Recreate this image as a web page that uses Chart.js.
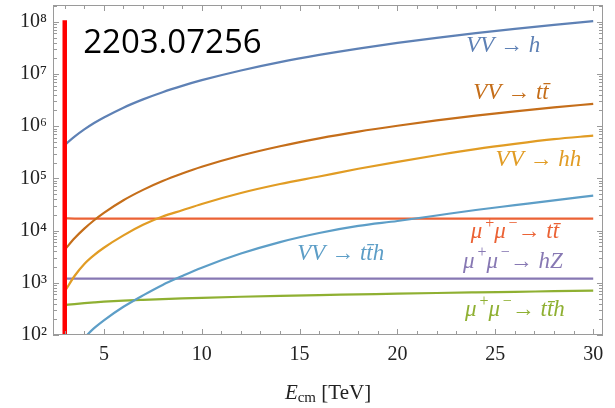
<!DOCTYPE html>
<html>
<head>
<meta charset="utf-8">
<script src="https://cdn.jsdelivr.net/npm/chart.js@4"></script>
<style>
  html, body { margin: 0; padding: 0; background: #fff; }
  #wrap { width: 615px; height: 408px; }
</style>
</head>
<body>
<div id="wrap"><canvas id="myChart" width="615" height="408"></canvas></div>
<script>
// collider energy in TeV
const energies = [3, 3.5, 4, 4.5, 5, 6, 7, 8, 9, 10, 12, 14, 16, 18, 20, 22, 24, 26, 28, 30];

// vector boson fusion
const vvToH   = [4.38e5, 6.31e5, 8.67e5, 1.15e6, 1.47e6, 2.27e6, 3.27e6, 4.49e6, 5.93e6, 7.62e6,
                 1.17e7, 1.69e7, 2.32e7, 3.07e7, 3.94e7, 4.94e7, 6.07e7, 7.34e7, 8.75e7, 1.03e8];
const vvToTT  = [4.3e3, 7.12e3, 1.09e4, 1.58e4, 2.19e4, 3.82e4, 6.03e4, 8.89e4, 1.24e5, 1.67e5,
                 2.74e5, 4.13e5, 5.85e5, 7.88e5, 1.02e6, 1.29e6, 1.6e6, 1.93e6, 2.29e6, 2.69e6];
const vvToHH  = [680, 1.35e3, 2.3e3, 3.4e3, 4.7e3, 8.1e3, 1.29e4, 1.86e4, 2.45e4, 3.24e4,
                 5.25e4, 7.8e4, 1.09e5, 1.53e5, 2.08e5, 2.78e5, 3.65e5, 4.6e5, 5.65e5, 6.6e5];
const vvToTTH = [null, null, 89, 135, 191, 347, 575, 912, 1.35e3, 1.95e3,
                 3.63e3, 6.03e3, 9.0e3, 1.23e4, 1.53e4, 1.95e4, 2.48e4, 3.07e4, 3.8e4, 4.68e4];

// muon annihilation
const mmToTT  = [1.72e4, 1.7e4, 1.7e4, 1.7e4, 1.7e4, 1.7e4, 1.7e4, 1.7e4, 1.7e4, 1.7e4,
                 1.7e4, 1.7e4, 1.7e4, 1.7e4, 1.7e4, 1.7e4, 1.7e4, 1.7e4, 1.7e4, 1.7e4];
const mmToHZ  = [1.21e3, 1.2e3, 1.2e3, 1.2e3, 1.2e3, 1.2e3, 1.2e3, 1.2e3, 1.2e3, 1.2e3,
                 1.2e3, 1.2e3, 1.2e3, 1.2e3, 1.2e3, 1.2e3, 1.2e3, 1.2e3, 1.2e3, 1.2e3];
const mmToTTH = [375, 392, 408, 422, 435, 455, 472, 488, 503, 516,
                 540, 562, 582, 600, 620, 638, 655, 672, 690, 708];

// red marker at 3 TeV
const markerE = [3, 3];
const markerY = [100, 1.07e8];

// ticks
const xTicks = [5, 10, 15, 20, 25, 30];
const yTickExp = [2, 3, 4, 5, 6, 7, 8];

// curve labels, '^' marks a superscript character
const labelText = ['VV \u2192 h', 'VV \u2192 tt\u0304', 'VV \u2192 hh', 'VV \u2192 tt\u0304h',
                   '\u03bc^+\u03bc^\u2212\u2192 tt\u0304', '\u03bc^+\u03bc^\u2212\u2192 hZ', '\u03bc^+\u03bc^\u2212\u2192 tt\u0304h'];
const labelE    = [25.4, 25.8, 27.2, 17.1, 26.0, 25.9, 26.0];
const labelY    = [3.4e7, 4.4e6, 2.3e5, 3.6e3, 9.3e3, 2.5e3, 300];
const labelColor = ['#5E81B5', '#C56E1A', '#E19C24', '#5D9EC7', '#EB6235', '#8778B3', '#8FB032'];

const arxivId = '2203.07256';
const arxivE = 3.94;
const arxivY = 3.9e7;

const sup = {2: '\u00b2', 3: '\u00b3', 4: '\u2074', 5: '\u2075', 6: '\u2076', 7: '\u2077', 8: '\u2078'};

function pts(ys)
{
    return energies.map((e, i) => ({x: e, y: ys[i]}));
}

function curve(ys, color)
{
    return {
        data: pts(ys),
        borderColor: color,
        borderWidth: 2.2,
        pointRadius: 0,
        cubicInterpolationMode: 'monotone',
        spanGaps: false
    };
}

// draw text with '^x' superscripts, centred on (x, y)
function drawRich(ctx, str, x, y, size)
{
    const parts = [];
    for (let i = 0; i < str.length; i++)
    {
        if (str[i] === '^') { parts.push({t: str[i + 1], up: true}); i++; }
        else if (parts.length && !parts[parts.length - 1].up) parts[parts.length - 1].t += str[i];
        else parts.push({t: str[i], up: false});
    }
    const big = 'italic ' + size + 'px "Liberation Serif"';
    const small = Math.round(size * 0.68) + 'px "Liberation Serif"';
    const kern = size * 0.12;  // italic correction before a superscript
    let w = 0;
    parts.forEach(p =>
    {
        ctx.font = p.up ? small : big;
        p.w = ctx.measureText(p.t).width + (p.up ? kern : 0);
        w += p.w;
    });
    let sx = x - w / 2;
    ctx.textAlign = 'left';
    ctx.textBaseline = 'middle';
    parts.forEach(p =>
    {
        ctx.font = p.up ? small : big;
        ctx.fillText(p.t, p.up ? sx + kern : sx, p.up ? y - size * 0.38 : y);
        sx += p.w;
    });
}

const framePlugin = {
    id: 'frame',
    afterDatasetsDraw(chart)
    {
        const {ctx, chartArea: a, scales: {x, y}} = chart;
        ctx.save();
        ctx.strokeStyle = '#9a9a9a';
        ctx.lineWidth = 1;
        ctx.strokeRect(a.left + 0.5, a.top + 0.5, a.right - a.left - 1, a.bottom - a.top - 1);
        ctx.beginPath();
        for (let e = 3; e <= 30; e++)
        {
            const px = Math.round(x.getPixelForValue(e)) + 0.5;
            const len = e % 5 === 0 ? 6 : 4;
            ctx.moveTo(px, a.bottom); ctx.lineTo(px, a.bottom - len);
            ctx.moveTo(px, a.top); ctx.lineTo(px, a.top + len);
        }
        for (let n = 2; n <= 8; n++)
        {
            for (let k = 1; k <= 9; k++)
            {
                const v = k * Math.pow(10, n);
                if (v > y.max) break;
                const py = Math.round(y.getPixelForValue(v)) + 0.5;
                const len = k === 1 ? 6 : 4;
                ctx.moveTo(a.left, py); ctx.lineTo(a.left + len, py);
                ctx.moveTo(a.right, py); ctx.lineTo(a.right - len, py);
            }
        }
        ctx.stroke();

        // curve labels
        labelText.forEach((t, i) =>
        {
            ctx.fillStyle = labelColor[i];
            drawRich(ctx, t, x.getPixelForValue(labelE[i]), y.getPixelForValue(labelY[i]), 23);
        });

        // paper id
        ctx.textAlign = 'left';
        ctx.textBaseline = 'middle';
        ctx.fillStyle = '#000';
        ctx.font = '33px "Open Sans"';
        ctx.fillText(arxivId, x.getPixelForValue(arxivE), y.getPixelForValue(arxivY));

        // x axis title
        const cx = (a.left + a.right) / 2;
        const ty = chart.height - 15;
        const fE = 'italic 21px "Liberation Serif"', fSub = '15px "Liberation Serif"', fU = '21px "Liberation Serif"';
        ctx.font = fE; const wE = ctx.measureText('E').width;
        ctx.font = fSub; const wS = ctx.measureText('cm').width;
        ctx.font = fU; const wU = ctx.measureText(' [TeV]').width;
        let sx = cx - (wE + wS + wU) / 2;
        ctx.fillStyle = '#222';
        ctx.font = fE; ctx.fillText('E', sx, ty); sx += wE;
        ctx.font = fSub; ctx.fillText('cm', sx, ty + 5); sx += wS;
        ctx.font = fU; ctx.fillText(' [TeV]', sx, ty);
        ctx.restore();
    }
};

window.addEventListener('load', () =>
{
    const ctx = document.getElementById('myChart').getContext('2d');
    new Chart(ctx, {
        type: 'line',
        data: {
            datasets: [
                {
                    data: markerE.map((e, i) => ({x: e, y: markerY[i]})),
                    borderColor: '#ff0000',
                    borderWidth: 4.5,
                    pointRadius: 0
                },
                curve(vvToH, '#5E81B5'),
                curve(vvToTT, '#C56E1A'),
                curve(vvToHH, '#E19C24'),
                curve(vvToTTH, '#5D9EC7'),
                curve(mmToTT, '#EB6235'),
                curve(mmToHZ, '#8778B3'),
                curve(mmToTTH, '#8FB032')
            ]
        },
        options: {
            responsive: false,
            animation: false,
            events: [],
            layout: {padding: {left: 0, right: 12, top: 5, bottom: 0}},
            plugins: {legend: {display: false}, tooltip: {enabled: false}},
            scales: {
                x: {
                    type: 'linear',
                    min: 2.4,
                    max: 30.5,
                    grid: {display: false, drawTicks: false},
                    border: {display: false},
                    afterBuildTicks: s => { s.ticks = xTicks.map(v => ({value: v})); },
                    afterFit: s => { s.height = 73; s.paddingLeft = 0; s.paddingRight = 0; },
                    ticks: {
                        padding: 8,
                        color: '#222',
                        maxRotation: 0,
                        autoSkip: false,
                        font: {family: '"Liberation Serif"', size: 20}
                    }
                },
                y: {
                    type: 'logarithmic',
                    min: 100,
                    max: 2.1e8,
                    grid: {display: false, drawTicks: false},
                    border: {display: false},
                    afterBuildTicks: s => { s.ticks = yTickExp.map(n => ({value: Math.pow(10, n)})); },
                    afterFit: s => { s.width = 53; s.paddingTop = 0; s.paddingBottom = 0; },
                    ticks: {
                        padding: 6,
                        color: '#222',
                        autoSkip: false,
                        font: {family: '"Liberation Serif"', size: 20},
                        callback: v => '10' + sup[Math.round(Math.log10(v))]
                    }
                }
            }
        },
        plugins: [framePlugin]
    });
});
</script>
</body>
</html>
